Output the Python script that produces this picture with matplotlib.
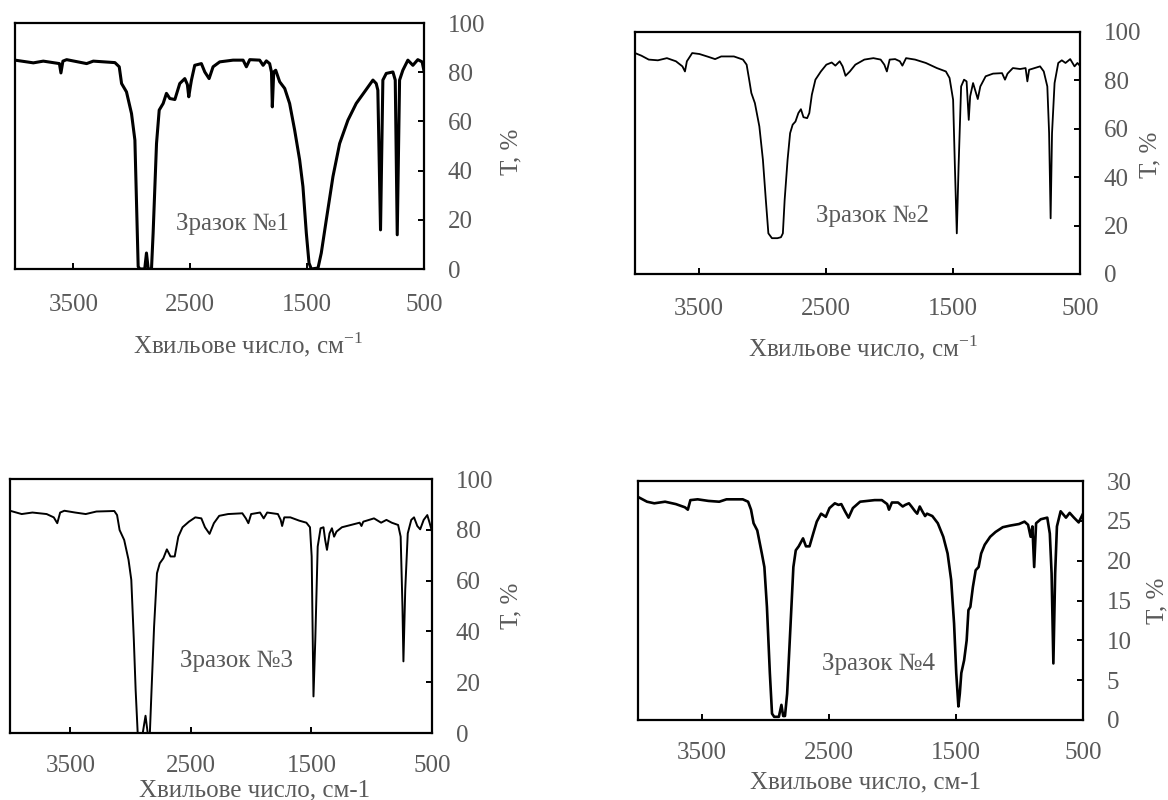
import matplotlib
matplotlib.use("Agg")
import matplotlib.pyplot as plt

plt.rcParams['font.family'] = ['Liberation Serif', 'DejaVu Serif']
plt.rcParams['mathtext.fontset'] = 'custom'
plt.rcParams['mathtext.rm'] = 'Liberation Serif'

# ---------------- data ----------------
x_ticks = [3500, 2500, 1500, 500]
y_ticks_pct = [0, 20, 40, 60, 80, 100]
y_ticks_4 = [0, 5, 10, 15, 20, 25, 30]

wn1 = [4000, 3843, 3758, 3620, 3607, 3590, 3558, 3387, 3330, 3145,
       3108, 3088, 3046, 3003, 2974, 2946, 2932, 2890, 2875, 2860,
       2832, 2818, 2789, 2766, 2732, 2704, 2675, 2632, 2590, 2547,
       2525, 2513, 2500, 2490, 2462, 2405, 2376, 2339, 2305, 2248,
       2134, 2048, 2020, 1991, 1906, 1877, 1849, 1821, 1805, 1798,
       1786, 1769, 1735, 1692, 1650, 1607, 1564, 1536, 1507, 1484,
       1464, 1407, 1379, 1336, 1279, 1222, 1151, 1080, 1009, 937,
       909, 895, 872, 852, 823, 766, 746, 729, 709, 681,
       638, 595, 553, 516, 500]
t1 = [84.9, 83.8, 84.5, 83.5, 79.7, 84.5, 85.1, 83.5, 84.5, 83.9,
      82.2, 75.4, 72.0, 63.2, 52.4, 1.0, 0.0, 0.0, 6.5, 0.0,
      0.0, 14.6, 51.0, 64.6, 67.3, 71.4, 69.3, 68.9, 75.4, 77.4,
      75.0, 70.0, 74.0, 76.8, 82.8, 83.5, 80.1, 77.4, 82.2, 84.2,
      84.9, 84.9, 82.2, 85.1, 84.9, 82.8, 84.6, 83.5, 80.0, 65.9,
      80.1, 80.8, 76.1, 73.4, 67.3, 56.5, 44.3, 33.5, 14.6, 2.4,
      0.0, 0.4, 6.5, 20.0, 37.6, 51.0, 60.5, 67.3, 72.0, 76.8,
      75.4, 72.7, 15.9, 76.8, 79.5, 80.1, 76.8, 13.9, 76.8, 80.8,
      84.9, 82.8, 85.1, 84.2, 80.5]

wn2 = [4000, 3949, 3892, 3820, 3749, 3678, 3627, 3607, 3592, 3550,
       3493, 3421, 3370, 3322, 3222, 3151, 3122, 3102, 3085, 3057,
       3022, 2994, 2971, 2951, 2923, 2880, 2852, 2837, 2823, 2800,
       2780, 2760, 2738, 2715, 2695, 2675, 2646, 2629, 2609, 2581,
       2538, 2495, 2453, 2424, 2390, 2367, 2344, 2310, 2267, 2196,
       2125, 2068, 2039, 2019, 1997, 1954, 1917, 1897, 1868, 1797,
       1712, 1626, 1555, 1526, 1498, 1484, 1469, 1455, 1435, 1412,
       1392, 1375, 1364, 1341, 1318, 1304, 1284, 1242, 1184, 1113,
       1090, 1070, 1028, 971, 928, 914, 900, 857, 814, 785,
       757, 743, 731, 720, 700, 671, 643, 614, 577, 543,
       520, 500]
t2 = [91.3, 90.2, 88.6, 88.3, 89.2, 87.9, 85.8, 83.7, 87.9, 91.3,
      90.9, 89.7, 88.8, 89.9, 89.9, 88.6, 86.5, 80.3, 74.8, 70.6,
      61.0, 47.2, 30.6, 16.8, 14.8, 14.8, 15.2, 16.8, 30.6, 47.2,
      58.2, 61.7, 63.0, 66.5, 68.1, 64.8, 64.4, 66.5, 74.1, 80.3,
      83.7, 86.5, 87.4, 86.1, 87.9, 85.8, 81.9, 83.7, 86.5, 88.6,
      89.2, 88.6, 86.5, 83.7, 88.6, 88.8, 87.9, 86.1, 89.2, 88.6,
      87.2, 85.1, 83.7, 81.0, 72.0, 44.4, 16.8, 44.4, 77.5, 80.3,
      79.6, 63.7, 73.4, 78.9, 74.8, 72.3, 77.5, 81.7, 82.8, 83.0,
      80.3, 82.8, 85.1, 84.7, 85.1, 79.6, 84.4, 85.1, 85.8, 83.7,
      77.5, 58.2, 23.0, 58.2, 78.9, 87.2, 88.3, 87.2, 88.8, 85.8,
      87.2, 86.0]

wn3 = [4000, 3903, 3814, 3696, 3637, 3608, 3584, 3549, 3460, 3372,
       3283, 3135, 3112, 3091, 3053, 3017, 2994, 2973, 2958, 2941,
       2899, 2876, 2858, 2840, 2826, 2805, 2781, 2758, 2728, 2699,
       2669, 2634, 2604, 2569, 2516, 2463, 2413, 2383, 2345, 2309,
       2265, 2191, 2073, 2044, 2023, 2000, 1926, 1896, 1867, 1778,
       1755, 1743, 1725, 1675, 1601, 1542, 1512, 1498, 1483, 1468,
       1448, 1424, 1400, 1386, 1371, 1350, 1330, 1312, 1292, 1247,
       1173, 1100, 1085, 1070, 981, 922, 878, 834, 781, 760,
       745, 737, 722, 701, 672, 649, 622, 598, 569, 539,
       519, 500]
t3 = [87.5, 86.2, 86.8, 86.2, 84.9, 82.6, 86.8, 87.5, 86.8, 86.2,
      87.2, 87.4, 85.8, 79.9, 76.0, 68.2, 60.3, 36.7, 17.0, 0.0,
      0.0, 6.8, 0.0, 0.0, 17.0, 41.9, 62.9, 66.8, 68.8, 72.3,
      69.5, 69.5, 77.3, 81.0, 83.2, 84.9, 84.5, 81.0, 78.4, 82.6,
      85.5, 86.2, 86.5, 84.5, 82.6, 86.2, 86.8, 84.5, 86.8, 86.2,
      83.9, 81.5, 84.9, 84.9, 83.6, 82.8, 81.0, 69.5, 14.4, 36.7,
      73.4, 80.6, 81.0, 76.0, 72.1, 78.6, 80.6, 77.3, 79.3, 81.0,
      81.9, 82.8, 81.5, 83.2, 84.5, 82.8, 83.9, 82.8, 81.9, 77.3,
      49.8, 28.2, 56.4, 78.6, 83.9, 84.9, 81.5, 80.2, 83.9, 85.8,
      82.6, 79.3]

wn4 = [4000, 3929, 3872, 3787, 3702, 3631, 3608, 3588, 3531, 3446,
       3361, 3304, 3176, 3134, 3111, 3091, 3062, 3026, 3006, 2986,
       2963, 2946, 2929, 2892, 2872, 2858, 2844, 2827, 2801, 2778,
       2759, 2736, 2702, 2679, 2651, 2622, 2594, 2560, 2523, 2494,
       2452, 2423, 2401, 2372, 2344, 2310, 2253, 2139, 2082, 2040,
       2026, 2003, 1955, 1918, 1898, 1869, 1849, 1821, 1804, 1784,
       1764, 1742, 1727, 1685, 1642, 1599, 1565, 1537, 1514, 1497,
       1480, 1469, 1457, 1435, 1415, 1401, 1386, 1366, 1344, 1321,
       1301, 1273, 1230, 1188, 1131, 1074, 1003, 960, 932, 912,
       898, 884, 869, 832, 781, 761, 747, 733, 719, 705,
       676, 634, 605, 571, 534, 500]
t4 = [28.0, 27.4, 27.2, 27.4, 27.1, 26.7, 26.4, 27.6, 27.7, 27.5,
      27.4, 27.7, 27.7, 27.4, 26.4, 24.7, 23.8, 20.9, 19.2, 14.2,
      5.9, 0.8, 0.4, 0.4, 1.9, 0.5, 0.5, 3.3, 11.7, 19.2,
      21.3, 21.8, 22.8, 21.8, 21.8, 23.4, 24.9, 25.9, 25.5, 26.6,
      27.2, 27.0, 27.1, 26.2, 25.4, 26.6, 27.4, 27.6, 27.6, 27.1,
      26.4, 27.3, 27.3, 26.8, 27.0, 27.2, 26.8, 26.2, 25.9, 26.8,
      26.2, 25.6, 25.9, 25.6, 24.7, 23.0, 20.9, 17.6, 12.1, 5.9,
      1.7, 3.3, 5.9, 7.5, 10.0, 13.8, 14.2, 16.7, 18.8, 19.2,
      20.9, 22.0, 23.0, 23.6, 24.2, 24.4, 24.6, 24.9, 24.5, 23.0,
      24.3, 19.2, 24.7, 25.2, 25.4, 23.4, 18.4, 7.1, 18.4, 24.3,
      26.2, 25.4, 26.0, 25.4, 24.8, 25.9]

sample_labels = ["Зразок №1", "Зразок №2", "Зразок №3", "Зразок №4"]
xlabel_sup = "Хвильове число, см$^{\\mathregular{-1}}$"
xlabel_plain = "Хвильове число, см-1"
ylabel = "Т, %"

# ---------------- layout ----------------
W, H = 1168, 800
GRAY = '#595959'
FS = 18

fig = plt.figure(figsize=(W / 100, H / 100), dpi=100)
fig.patch.set_facecolor('white')


def fx(px):
    return px / W


def fy(py):
    return 1 - py / H


panels = [
    dict(box=(15, 23, 424, 269), wn=wn1, t=t1, yt=y_ticks_pct, ymax=100, lw=2.2, xpad=18,
         sample=(232, 230), xl=xlabel_sup, xlpos=(248, 353), ylpos=(511, 152)),
    dict(box=(635, 32, 1080, 274), wn=wn2, t=t2, yt=y_ticks_pct, ymax=100, lw=1.3, xpad=17,
         sample=(872, 222), xl=xlabel_sup, xlpos=(863, 356), ylpos=(1150, 155)),
    dict(box=(10, 479, 432, 733), wn=wn3, t=t3, yt=y_ticks_pct, ymax=100, lw=1.4, xpad=15.5,
         sample=(237, 667), xl=xlabel_plain, xlpos=(255, 796), ylpos=(511, 606)),
    dict(box=(638, 481, 1083, 720), wn=wn4, t=t4, yt=y_ticks_4, ymax=30, lw=1.9, xpad=15.5,
         sample=(879, 670), xl=xlabel_plain, xlpos=(866, 788), ylpos=(1157, 601)),
]

for i, p in enumerate(panels):
    l, t, r, b = p['box']
    ax = fig.add_axes([fx(l), fy(b), fx(r - l), (b - t) / H])
    ax.plot(p['wn'], p['t'], color='black', lw=p['lw'], solid_joinstyle='round')
    ax.set_xlim(4000, 500)
    ax.set_ylim(0, p['ymax'])
    ax.set_xticks(x_ticks)
    ax.set_xticklabels([str(v) for v in x_ticks])
    ax.yaxis.tick_right()
    ax.set_yticks(p['yt'])
    ax.set_yticklabels([str(v) for v in p['yt']])
    ax.tick_params(axis='x', direction='in', length=4.5, width=1.4, pad=p['xpad'],
                   labelsize=FS, labelcolor=GRAY, color='black')
    ax.tick_params(axis='y', direction='in', length=4.5, width=1.4, pad=17,
                   labelsize=FS, labelcolor=GRAY, color='black',
                   left=False, right=True, labelleft=False, labelright=True)
    for s in ax.spines.values():
        s.set_linewidth(1.6)
        s.set_color('black')
    ax.set_facecolor('none')

    sx, sy = p['sample']
    fig.text(fx(sx), fy(sy), sample_labels[i], ha='center', va='baseline',
             fontsize=FS, color=GRAY)
    xx, xy = p['xlpos']
    fig.text(fx(xx), fy(xy), p['xl'], ha='center', va='baseline',
             fontsize=FS, color=GRAY)
    yx, yy = p['ylpos']
    fig.text(fx(yx), fy(yy), ylabel, ha='center', va='center', rotation=90,
             fontsize=FS, color=GRAY)

fig.savefig('out.png', dpi=100, facecolor='white')
